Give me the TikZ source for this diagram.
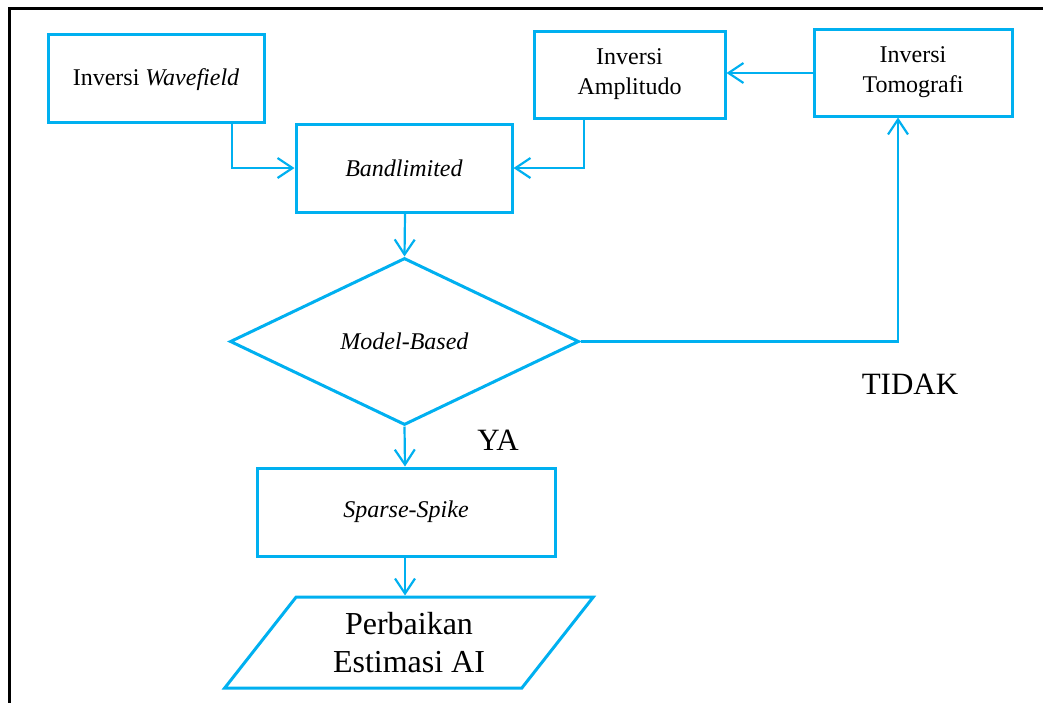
\documentclass[tikz,border=0pt]{standalone}
\usepackage{fontspec}
\setmainfont{Liberation Serif}
\usetikzlibrary{shapes.geometric,arrows.meta}
\definecolor{flowblue}{RGB}{0,176,240}
\tikzset{
  procbox/.style={draw=flowblue, line width=3pt, rectangle, inner sep=0pt, align=center, font=\fontsize{24}{30}\selectfont},
  decbox/.style={draw=flowblue, line width=3pt, diamond, inner sep=0pt, aspect=2.09, font=\fontsize{24}{30}\selectfont},
  iobox/.style={draw=flowblue, line width=3pt, trapezium, trapezium left angle=51.5, trapezium right angle=128.5, trapezium stretches=true, inner sep=0pt, align=center, font=\fontsize{32}{38}\selectfont},
  flow/.style={draw=flowblue, line width=2.2pt, -{Straight Barb[length=15pt,width=20pt]}},
  lbl/.style={font=\fontsize{31}{36}\selectfont, inner sep=0pt}
}
\begin{document}
\begin{tikzpicture}[x=1pt,y=-1pt]
\useasboundingbox (0,0) rectangle (1043,702);
\clip (0,0) rectangle (1043,702);
\fill[white] (0,0) rectangle (1043,702);
\draw[black, line width=3pt] (9,8) rectangle (1080,740);

\node[procbox, minimum width=216pt, minimum height=88pt, text depth=2pt] (wave) at (156,78) {Inversi \textit{Wavefield}};
\node[procbox, minimum width=216pt, minimum height=88pt] (band) at (404,168.5) {\textit{Bandlimited}};
\node[procbox, minimum width=191pt, minimum height=87pt] (ampl) at (629.5,74.5) {Inversi\\Amplitudo};
\node[procbox, minimum width=198pt, minimum height=87pt] (tomo) at (913,72.5) {Inversi\\Tomografi};
\node[decbox, minimum width=349pt, minimum height=167pt] (model) at (404.5,341.5) {\textit{Model-Based}};
\node[procbox, minimum width=298pt, minimum height=88pt] (sparse) at (406,512) {\textit{Sparse-Spike}};
\node[iobox, minimum width=370pt, minimum height=91pt] (out) at (409,642.5) {Perbaikan\\Estimasi AI};

\node[lbl] (tidak) at (910,384) {TIDAK};
\node[lbl] (ya) at (498,440) {YA};

\draw[flow] (wave.south -| 232,0) |- (band.west |- 0,168);
\draw[flow] (ampl.south -| 584,0) |- (band.east |- 0,168);
\draw[flow] (tomo.west |- 0,73) -- (ampl.east |- 0,73);
\draw[flow] (model.east) -| (tomo.south -| 898,0);
\draw[flow] (band.south -| 405,0) -- (model.north);
\draw[flow] (model.south) -- (sparse.north -| 405,0);
\draw[flow] (sparse.south -| 405,0) -- (out.north -| 405,0);
\end{tikzpicture}
\end{document}
